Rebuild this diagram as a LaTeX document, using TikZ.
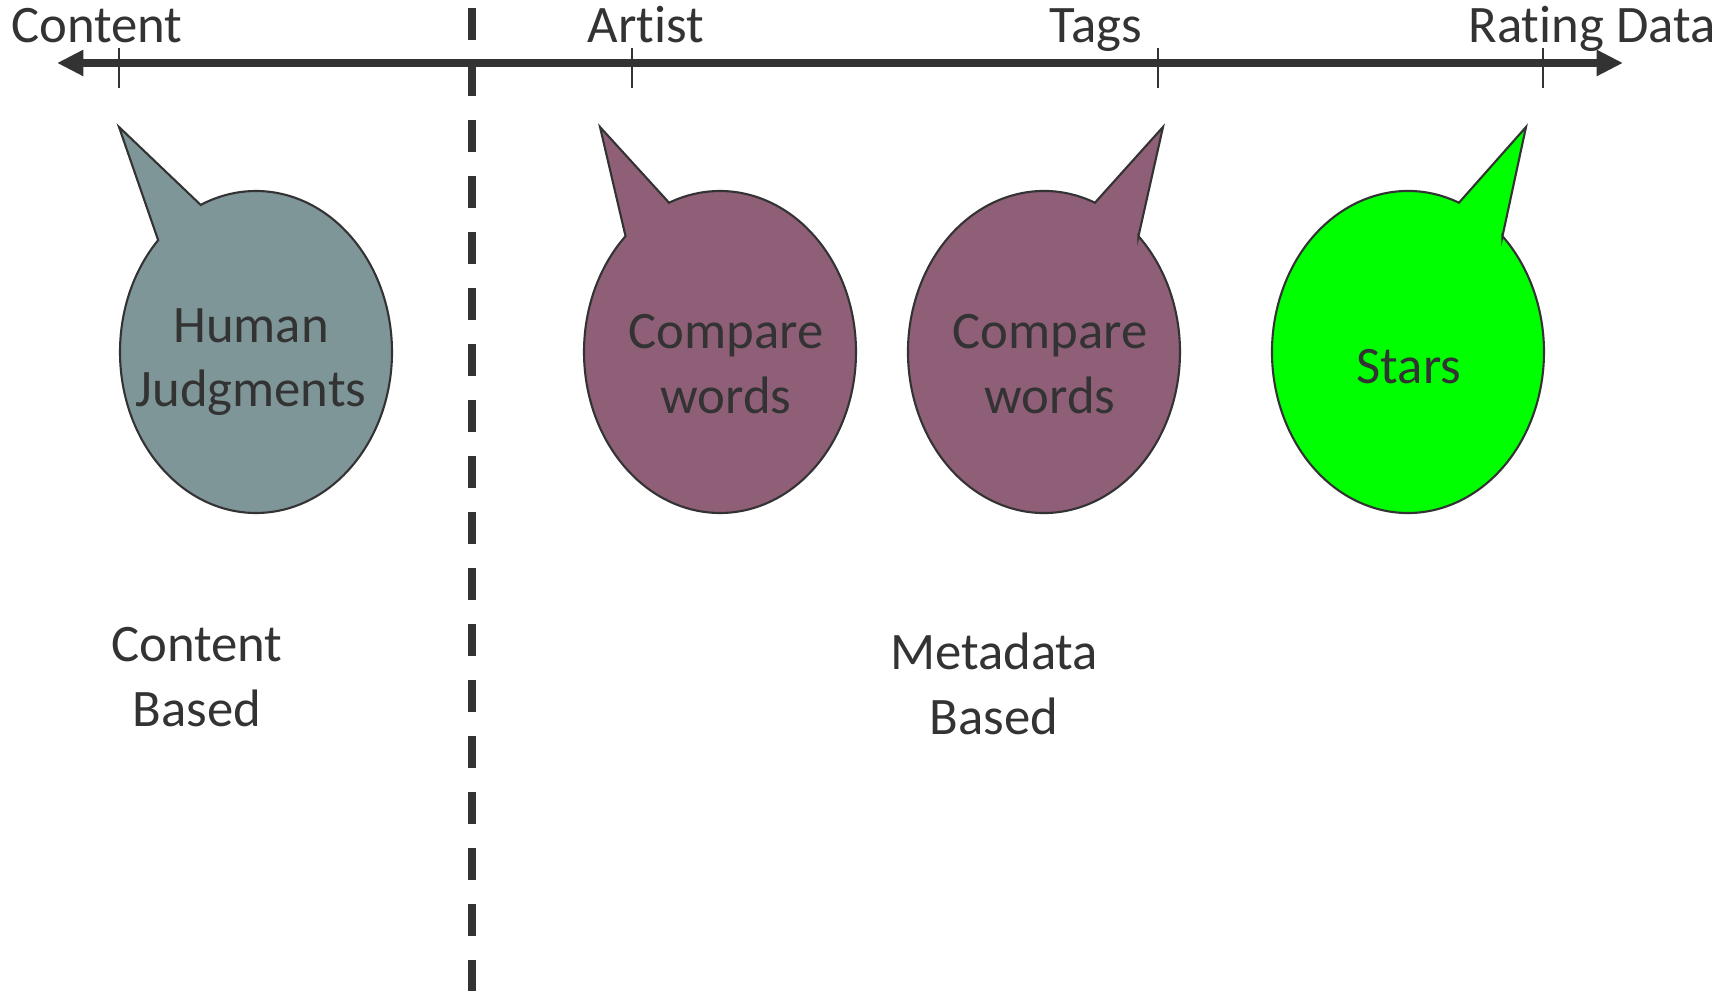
\documentclass[tikz,border=0pt]{standalone}
\usepackage{fontspec}
\setmainfont{Carlito}[Ligatures=NoCommon]
\usepackage{tikz}
\definecolor{ink}{RGB}{51, 51, 51}
\definecolor{slate}{RGB}{127, 150, 153}
\definecolor{plum}{RGB}{143, 94, 119}
\definecolor{brightgreen}{RGB}{0, 255, 0}
\usetikzlibrary{arrows.meta}

\begin{document}
\begin{tikzpicture}[
    txt/.style={text=ink, align=center, font=\fontsize{15}{18.3}\selectfont},
    timeline/.style={{Triangle[length=7.5pt, width=7pt]}-{Triangle[length=7.5pt, width=7pt]}, line width=2.1pt, ink},
    tickmark/.style={line width=0.6pt, ink},
    divider/.style={line width=2.2pt, ink, dash pattern=on 0.32cm off 0.24cm},
    bubble/.style={draw=ink, line width=0.6pt, line join=miter}
]
    \useasboundingbox (0,0) rectangle (17.29,-9.91);

    % scale along the top
    \coordinate (west) at (0.57,-0.63);
    \coordinate (east) at (16.23,-0.63);
    \draw[timeline] (west) -- (east);
    \draw[tickmark] (1.19,-0.48) -- (1.19,-0.88);
    \draw[tickmark] (6.32,-0.48) -- (6.32,-0.88);
    \draw[tickmark] (11.58,-0.48) -- (11.58,-0.88);
    \draw[tickmark] (15.43,-0.48) -- (15.43,-0.88);
    \node[txt, anchor=base] (content) at (0.97,-0.43) {Content};
    \node[txt, anchor=base] (artist) at (6.46,-0.43) {Artist};
    \node[txt, anchor=base] (tags) at (10.96,-0.43) {Tags};
    \node[txt, anchor=base] (rating) at (15.92,-0.43) {Rating Data};

    % content / metadata split
    \draw[divider] (4.72,-0.08) -- (4.72,-9.92);

    % speech bubbles
    \draw[bubble, fill=slate, shift={(2.56,-3.52)}]
        (114:1.36 and 1.61) -- (-1.37,2.25) -- (136:1.36 and 1.61)
        arc[start angle=136, end angle=474, x radius=1.36, y radius=1.61] -- cycle;
    \draw[bubble, fill=plum, shift={(7.20,-3.52)}]
        (112:1.36 and 1.61) -- (-1.20,2.25) -- (134:1.36 and 1.61)
        arc[start angle=134, end angle=472, x radius=1.36, y radius=1.61] -- cycle;
    \draw[bubble, fill=plum, shift={(10.44,-3.52)}]
        (46:1.36 and 1.61) -- (1.19,2.25) -- (68:1.36 and 1.61)
        arc[start angle=68, end angle=406, x radius=1.36, y radius=1.61] -- cycle;
    \draw[bubble, fill=brightgreen, shift={(14.08,-3.52)}]
        (46:1.36 and 1.61) -- (1.18,2.25) -- (68:1.36 and 1.61)
        arc[start angle=68, end angle=406, x radius=1.36, y radius=1.61] -- cycle;

    \node[txt] (human) at (2.51,-3.62) {Human\\Judgments};
    \node[txt] (artistwords) at (7.26,-3.64) {Compare\\words};
    \node[txt] (tagwords) at (10.50,-3.64) {Compare\\words};
    \node[txt] (stars) at (14.09,-3.67) {Stars};

    % group captions
    \node[txt] (contentbased) at (1.97,-6.77) {Content\\Based};
    \node[txt] (metabased) at (9.94,-6.84) {Metadata\\Based};
\end{tikzpicture}
\end{document}
